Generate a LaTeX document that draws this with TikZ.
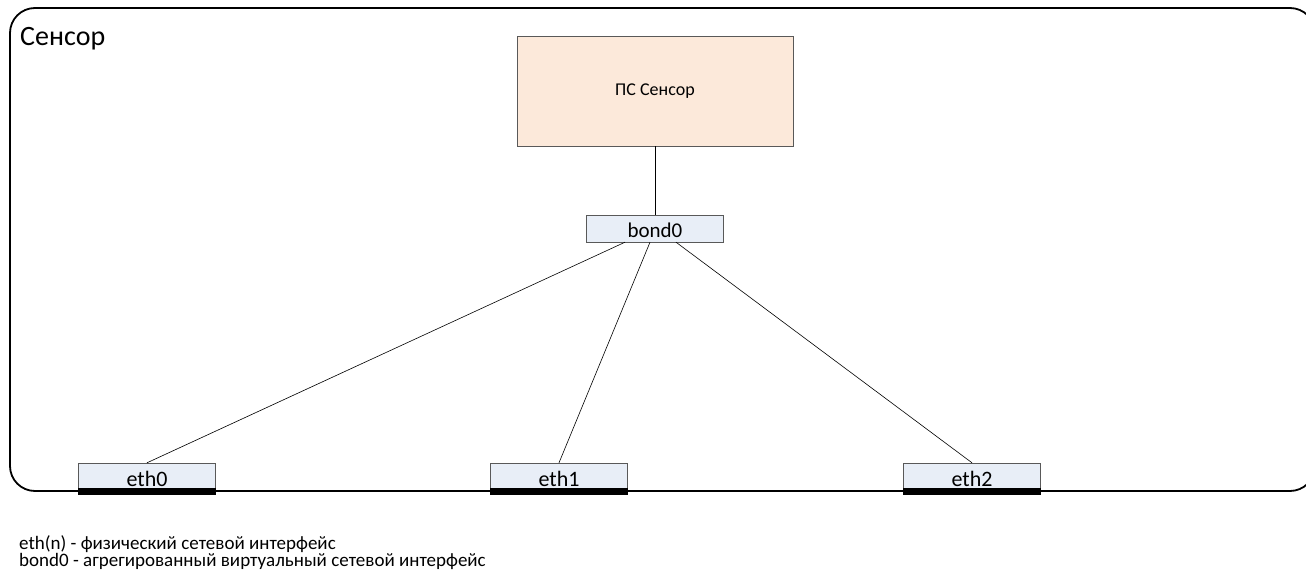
\documentclass[tikz,border=0pt]{standalone}
\usepackage{fontspec}
\setmainfont{Carlito}
\usetikzlibrary{positioning}
\definecolor{pspeach}{HTML}{FCE9DA}
\definecolor{ifblue}{HTML}{E8EEF7}
\definecolor{boxgray}{HTML}{595959}
\tikzset{
  ifbox/.style={rectangle, draw=boxgray, fill=ifblue, minimum width=137pt, inner sep=0pt, font=\fontsize{22}{24}\selectfont},
  legendtext/.style={anchor=base west, inner sep=0pt, font=\fontsize{19}{19}\selectfont},
  link/.style={draw=black, line width=0.6pt}
}
\begin{document}
\begin{tikzpicture}[x=1pt, y=-1pt]
    \useasboundingbox (0,0) rectangle (1306,572);
    % outer frame
    \node (sensor) [rectangle, draw, line width=1.8pt, rounded corners=25pt, minimum width=1305pt, minimum height=483pt, inner sep=0pt] at (662.5,249.5) {};
    \node (title) [anchor=base west, inner sep=0pt, font=\fontsize{28}{30}\selectfont] at (20,46) {Сенсор};
    % nodes
    \node (ps) [rectangle, draw=boxgray, fill=pspeach, minimum width=276pt, minimum height=110pt, font=\fontsize{18}{20}\selectfont] at (655,91) {ПС Сенсор};
    \node (bond0) [ifbox, text height=22pt, text depth=5pt, font=\fontsize{21}{23}\selectfont] at (655,228.5) {bond0};
    \node (eth0) [ifbox, text height=23pt, text depth=2pt] at (147,475.5) {eth0};
    \node (eth1) [ifbox, text height=23pt, text depth=2pt] at (559,475.5) {eth1};
    \node (eth2) [ifbox, text height=23pt, text depth=2pt] at (972,475.5) {eth2};
    \foreach \e in {eth0,eth1,eth2}
      \fill (\e.south west) rectangle ([yshift=-7pt]\e.south east);
    % links
    \draw [link] (ps) -- (bond0);
    \draw [link] ([xshift=-30pt]bond0.south) -- (eth0.north);
    \draw [link] ([xshift=-5pt]bond0.south) -- (eth1.north);
    \draw [link] ([xshift=21pt]bond0.south) -- (eth2.north);
    % legend
    \node (legend1) [legendtext] at (19,549.5) {eth(n) - физический сетевой интерфейс};
    \node (legend2) [legendtext] at (19,566.5) {bond0 - агрегированный виртуальный сетевой интерфейс};
\end{tikzpicture}
\end{document}
